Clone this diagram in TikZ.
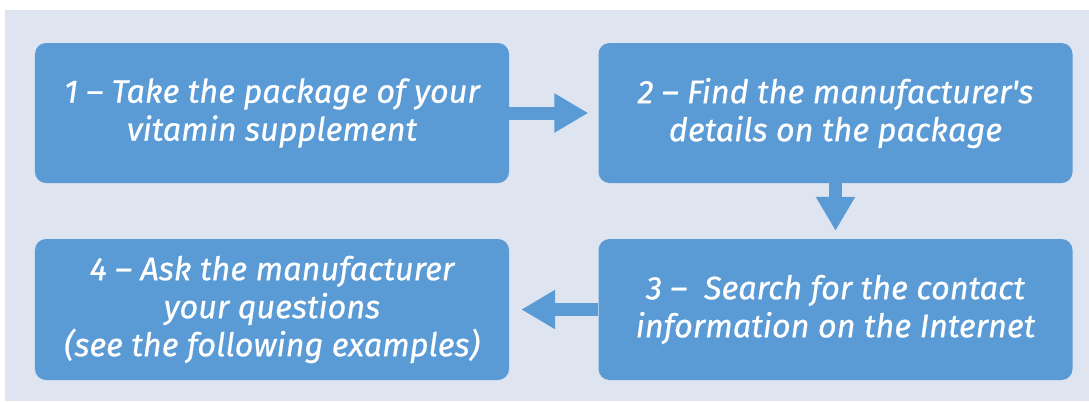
\documentclass[tikz,border=0pt]{standalone}
\usepackage{fontspec}
\setmainfont{Fira Sans}
\newfontface\stepfont{Fira Sans Italic}[FakeBold=0.6]
\usepackage{tikz}
\usetikzlibrary{positioning,arrows.meta}
\usepackage{xcolor}
\definecolor{stepblue}{HTML}{5B9BD5}
\definecolor{panelgrey}{HTML}{DEE4F0}

\begin{document}
\begin{tikzpicture}[x=1bp,y=-1bp,
    stepbox/.style={fill=stepblue, rounded corners=11bp, minimum width=474bp, minimum height=140bp,
        text=white, align=center, font=\stepfont\fontsize{32.5bp}{38bp}\selectfont, inner sep=0pt},
    blockarrow/.style={draw=stepblue, line width=13bp, -{Triangle[length=34bp, width=37bp]}}]
        % Background panel
        \useasboundingbox (0,0) rectangle (1089,401);
        \fill[panelgrey] (5,10) rectangle (1089,401);

        % Steps
        \node[stepbox] (take) at (272,113) {1 \textendash{} Take the package of your\\vitamin supplement};
        \node[stepbox] (find) at (835.5,113) {2 \textendash{} Find the manufacturer\textquotesingle s\\details on the package};
        \node[stepbox, minimum height=141bp] (search) at (835.5,309.5) {3 \textendash{}\ \ Search for the contact\\information on the Internet};
        \node[stepbox, minimum height=141bp] (ask) at (272,309.5) {4 \textendash{} Ask the manufacturer\\your questions\\(see the following examples)};

        % Arrows between steps
        \draw[blockarrow, shorten >=10bp] (take.east) -- (find.west);
        \draw[blockarrow, shorten >=8bp] (find.south) -- (search.north);
        \draw[blockarrow, shorten >=12bp] (search.west) -- (ask.east);
    \end{tikzpicture}
\end{document}
